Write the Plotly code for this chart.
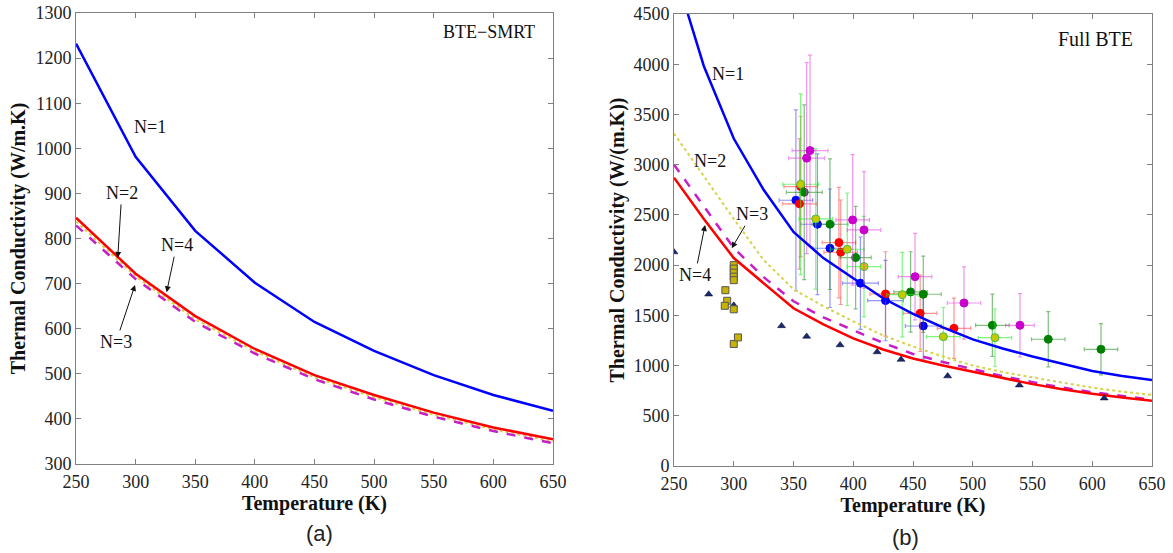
import plotly.graph_objects as go

# ---------------- Panel (a): BTE-SMRT ----------------
temp_a = [250, 300, 350, 400, 450, 500, 550, 600, 650]
a_n1 = [1232, 981, 817, 702, 615, 551, 497, 453, 418]
a_n2 = [846, 722, 628, 555, 497, 453, 414, 381, 355]
a_n4 = [838, 716, 621, 550, 492, 448, 409, 377, 350]
a_n3 = [829, 710, 615, 545, 488, 443, 405, 373, 346]

# ---------------- Panel (b): Full BTE ----------------
temp_b = [250, 275, 300, 325, 350, 375, 400, 425, 450, 475, 500, 525, 550, 575, 600, 625, 650]
b_n1 = [4950, 3980, 3260, 2750, 2330, 2070, 1870, 1670, 1515, 1380, 1260, 1170, 1090, 1020, 945, 895, 855]
b_n4 = [2870, 2460, 2070, 1820, 1570, 1410, 1270, 1160, 1070, 1000, 940, 875, 815, 765, 720, 683, 650]
b_n3 = [3000, 2580, 2170, 1880, 1640, 1480, 1350, 1225, 1115, 1035, 965, 895, 835, 780, 735, 695, 660]
b_n2 = [3310, 2880, 2460, 2050, 1760, 1590, 1440, 1300, 1190, 1090, 1000, 935, 880, 830, 780, 740, 708]

# experimental data
tri_t = [250, 279, 300, 340, 361, 389, 420, 440, 479, 539, 610]
tri_k = [2130, 1710, 1600, 1395, 1290, 1205, 1135, 1060, 895, 805, 675]

sq_t = [300, 300, 300, 300, 300, 293, 294.5, 292.5, 300, 300, 303.5]
sq_k = [2000, 1965, 1925, 1885, 1850, 1750, 1645, 1595, 1560, 1215, 1280]

blue_t = [352, 370, 380.5, 406, 427, 458.6]
blue_k = [2646, 2407, 2168, 1820, 1647, 1394]
blue_dt = [14, 14, 14, 15, 15, 15]
blue_dk = [900, 700, 590, 460, 400, 330]

red_t = [356, 355, 388, 389.5, 427, 456, 484.3]
red_k = [2782, 2610, 2224, 2128, 1713, 1520, 1371]
red_dt = [14, 14, 14, 14, 13, 14, 14]
red_dk = [700, 650, 550, 520, 420, 380, 300]

green_t = [359, 380.5, 402, 448, 458.6, 516.4, 563.2, 607.3]
green_k = [2725, 2407, 2075, 1733, 1710, 1401, 1262, 1162]
green_dt = [15, 15, 13, 14, 15, 14, 14, 14]
green_dk = [870, 650, 510, 400, 380, 310, 275, 255]

yg_t = [356, 368.6, 395, 409, 441, 475.4, 518.6]
yg_k = [2805, 2460, 2158, 1985, 1706, 1288, 1278]
yg_dt = [15, 14, 14, 14, 13, 14, 14]
yg_dk = [900, 700, 560, 500, 420, 290, 285]

mag_t = [363.8, 361, 399.5, 409, 451.7, 492.7, 539.5]
mag_k = [3140, 3065, 2450, 2350, 1885, 1623, 1401]
mag_dt = [15, 15, 14, 14, 14, 14, 12]
mag_dk = [950, 950, 650, 580, 430, 360, 315]

BLUE = "#0000ff"
RED = "#ff0000"
MAG = "#c81ec8"
YEL = "#d6d24a"
SERIF = "Liberation Serif"

fig = go.Figure()

# panel (a) lines
fig.add_trace(go.Scatter(x=temp_a, y=a_n1, mode="lines", line=dict(color=BLUE, width=2.5), xaxis="x", yaxis="y"))
fig.add_trace(go.Scatter(x=temp_a, y=a_n4, mode="lines", line=dict(color=YEL, width=2, dash="dot"), xaxis="x", yaxis="y"))
fig.add_trace(go.Scatter(x=temp_a, y=a_n3, mode="lines", line=dict(color=MAG, width=2.5, dash="dash"), xaxis="x", yaxis="y"))
fig.add_trace(go.Scatter(x=temp_a, y=a_n2, mode="lines", line=dict(color=RED, width=2.5), xaxis="x", yaxis="y"))


def err_pts(t, k, dt, dk, fill, errc, edge=None):
    return go.Scatter(
        x=t, y=k, mode="markers", xaxis="x2", yaxis="y2",
        marker=dict(size=8, color=fill, line=dict(color=edge or fill, width=1)),
        error_x=dict(type="data", array=dt, color=errc, thickness=1.2, width=2),
        error_y=dict(type="data", array=dk, color=errc, thickness=1.2, width=2),
    )


fig.add_trace(err_pts(blue_t, blue_k, blue_dt, blue_dk, BLUE, "rgba(60,60,255,0.55)"))
fig.add_trace(err_pts(red_t, red_k, red_dt, red_dk, RED, "rgba(255,60,60,0.55)"))
fig.add_trace(err_pts(green_t, green_k, green_dt, green_dk, "#008000", "rgba(0,128,0,0.5)"))
fig.add_trace(err_pts(yg_t, yg_k, yg_dt, yg_dk, "#c8c800", "rgba(40,240,40,0.6)", edge="#40c040"))
fig.add_trace(err_pts(mag_t, mag_k, mag_dt, mag_dk, "#cc00cc", "rgba(225,60,225,0.55)"))

# panel (b) lines
fig.add_trace(go.Scatter(x=temp_b, y=b_n1, mode="lines", line=dict(color=BLUE, width=2.5), xaxis="x2", yaxis="y2"))
fig.add_trace(go.Scatter(x=temp_b, y=b_n2, mode="lines", line=dict(color=YEL, width=2, dash="dot"), xaxis="x2", yaxis="y2"))
fig.add_trace(go.Scatter(x=temp_b, y=b_n3, mode="lines", line=dict(color=MAG, width=2.5, dash="dash"), xaxis="x2", yaxis="y2"))
fig.add_trace(go.Scatter(x=temp_b, y=b_n4, mode="lines", line=dict(color=RED, width=2.5), xaxis="x2", yaxis="y2"))

fig.add_trace(go.Scatter(x=tri_t, y=tri_k, mode="markers", xaxis="x2", yaxis="y2",
                         marker=dict(symbol="triangle-up", size=7, color="#1a2a6c", line=dict(color="#000033", width=0.5))))
fig.add_trace(go.Scatter(x=sq_t, y=sq_k, mode="markers", xaxis="x2", yaxis="y2",
                         marker=dict(symbol="square", size=7, color="#c8b400", line=dict(color="#555555", width=1))))

axis_common = dict(
    showgrid=False, zeroline=False, showline=True, linecolor="#808080", linewidth=1,
    mirror="ticks", ticks="inside", ticklen=5, tickcolor="#808080", automargin=False,
    tickfont=dict(family=SERIF, size=18, color="#222222"),
)
title_font = dict(family=SERIF, size=20, color="#111111")

fig.update_layout(
    width=1173, height=553,
    margin=dict(l=0, r=0, t=13, b=87),
    paper_bgcolor="white", plot_bgcolor="white",
    showlegend=False,
    xaxis=dict(domain=[0.0648, 0.4714], range=[250, 650], tick0=250, dtick=50, anchor="y",
               ticklabelstandoff=1,
               title=dict(text="<b>Temperature (K)</b>", font=title_font, standoff=0), **axis_common),
    yaxis=dict(domain=[0.0044, 1.0], range=[300, 1300], tick0=300, dtick=100, anchor="x",
               title=dict(text="<b>Thermal Conductivity (W/m.K)</b>", font=title_font, standoff=4), **axis_common),
    xaxis2=dict(domain=[0.5746, 0.9821], range=[250, 650], tick0=250, dtick=50, anchor="y2",
                ticklabelstandoff=1,
                title=dict(text="<b>Temperature (K)</b>", font=title_font, standoff=0), **axis_common),
    yaxis2=dict(domain=[0.0, 0.9978], range=[0, 4500], tick0=0, dtick=500, anchor="x2",
                title=dict(text="<b>Thermal Conductivity (W/(m.K))</b>", font=title_font, standoff=3), **axis_common),
)

lab_font = dict(family=SERIF, size=18, color="#111111")
ann = []
# panel (a) labels
ann.append(dict(x=312, y=1047, xref="x", yref="y", text="N=1", showarrow=False, font=lab_font))
ann.append(dict(x=285, y=757, xref="x", yref="y", text="N=2", showarrow=True, ax=4, ay=-65,
                arrowhead=2, arrowsize=1.2, arrowwidth=1, arrowcolor="#111111", font=lab_font))
ann.append(dict(x=326, y=681, xref="x", yref="y", text="N=4", showarrow=True, ax=10, ay=-47,
                arrowhead=2, arrowsize=1.2, arrowwidth=1, arrowcolor="#111111", font=lab_font))
ann.append(dict(x=299.5, y=697, xref="x", yref="y", text="N=3", showarrow=True, ax=-19, ay=57,
                arrowhead=2, arrowsize=1.2, arrowwidth=1, arrowcolor="#111111", font=lab_font))
ann.append(dict(x=637, y=1258, xref="x", yref="y", text="BTE\u2212SMRT", showarrow=False,
                xanchor="right", font=dict(family=SERIF, size=18, color="#111111")))
# panel (b) labels
ann.append(dict(x=295, y=3900, xref="x2", yref="y2", text="N=1", showarrow=False, font=lab_font))
ann.append(dict(x=280, y=3040, xref="x2", yref="y2", text="N=2", showarrow=False, font=lab_font))
ann.append(dict(x=298.3, y=2168, xref="x2", yref="y2", text="N=3", showarrow=True, ax=20, ay=-34,
                arrowhead=2, arrowsize=1.2, arrowwidth=1, arrowcolor="#111111", font=lab_font))
ann.append(dict(x=276, y=2400, xref="x2", yref="y2", text="N=4", showarrow=True, ax=-10, ay=50,
                arrowhead=2, arrowsize=1.2, arrowwidth=1, arrowcolor="#111111", font=lab_font))
ann.append(dict(x=636, y=4250, xref="x2", yref="y2", text="Full BTE", showarrow=False,
                xanchor="right", font=dict(family=SERIF, size=20, color="#111111")))
# sub-figure labels
ann.append(dict(x=303.5 / 1173, y=-0.18, xref="paper", yref="paper", text="(a)", showarrow=False,
                font=dict(family="Liberation Sans", size=22, color="#222222")))
ann.append(dict(x=921 / 1173, y=-0.19, xref="paper", yref="paper", text="(b)", showarrow=False,
                font=dict(family="Liberation Sans", size=22, color="#222222")))
fig.update_layout(annotations=ann)

fig.write_html("out.html", config={"displayModeBar": False},
               post_script="document.body.style.margin='0';document.body.style.overflow='hidden';")
